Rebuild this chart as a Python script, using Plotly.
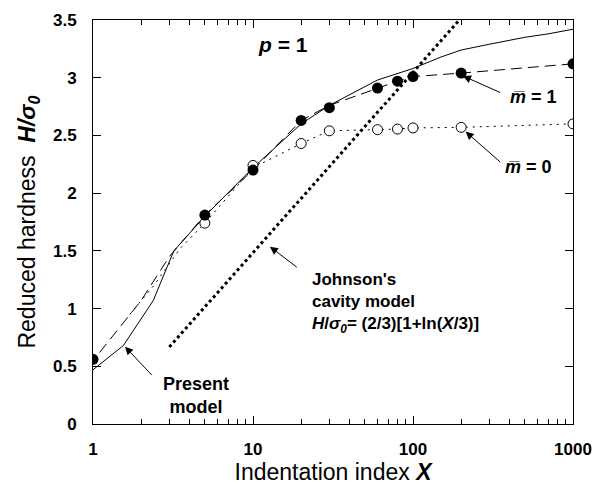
import math
import plotly.graph_objects as go

# ---- data ----
x_m1 = [1, 5, 10, 20, 30, 60, 80, 100, 200, 1000]
y_m1 = [0.56, 1.81, 2.20, 2.63, 2.74, 2.91, 2.97, 3.01, 3.04, 3.12]

x_m1_line = [1.1, 1.5, 2, 3, 5, 10, 20, 30, 60, 80, 100, 200, 1000]
y_m1_line = [0.62, 0.85, 1.07, 1.45, 1.81, 2.20, 2.63, 2.76, 2.91, 2.97, 3.01, 3.04, 3.12]

x_m0 = [5, 10, 20, 30, 60, 80, 100, 200, 1000]
y_m0 = [1.74, 2.24, 2.43, 2.54, 2.55, 2.555, 2.565, 2.57, 2.60]

x_m0_line = [1.7, 2.4, 3.5, 5, 10, 20, 30, 60, 80, 100, 200, 1000]
y_m0_line = [0.95, 1.20, 1.52, 1.74, 2.22, 2.43, 2.54, 2.55, 2.555, 2.565, 2.57, 2.60]

x_present = [1, 1.55, 2.38, 3.2, 5, 10, 20, 30, 60, 100, 150, 200, 300, 500, 700, 1000]
y_present = [0.47, 0.68, 1.07, 1.50, 1.80, 2.22, 2.60, 2.76, 2.98, 3.08, 3.18, 3.24, 3.29, 3.35, 3.38, 3.42]

x_johnson = [3, 195]
y_johnson = [0.667, 3.5]

x_ticks = [1, 10, 100, 1000]
x_ticklabels = ["1", "10", "100", "1000"]
y_ticks = [0, 0.5, 1, 1.5, 2, 2.5, 3, 3.5]
y_ticklabels = ["0", "0.5", "1", "1.5", "2", "2.5", "3", "3.5"]

FONT = "Liberation Sans, Arial, sans-serif"

fig = go.Figure()

fig.add_trace(go.Scatter(x=x_present, y=y_present, mode="lines",
                         line=dict(color="black", width=1), hoverinfo="skip"))
fig.add_trace(go.Scatter(x=x_m1_line, y=y_m1_line, mode="lines",
                         line=dict(color="black", width=1, dash="11px,6px"), hoverinfo="skip"))
fig.add_trace(go.Scatter(x=x_m0_line, y=y_m0_line, mode="lines",
                         line=dict(color="black", width=1, dash="2px,5px"), hoverinfo="skip"))
fig.add_trace(go.Scatter(x=x_johnson, y=y_johnson, mode="lines",
                         line=dict(color="black", width=3, dash="3px,3px"), hoverinfo="skip"))
fig.add_trace(go.Scatter(x=x_m0, y=y_m0, mode="markers",
                         marker=dict(symbol="circle", size=10, color="white",
                                     line=dict(color="black", width=1))))
fig.add_trace(go.Scatter(x=x_m1, y=y_m1, mode="markers",
                         marker=dict(symbol="circle", size=11, color="black",
                                     line=dict(color="black", width=0))))

L = math.log10

def arrow(xt, yt, xh, yh):
    fig.add_annotation(x=L(xh), y=yh, ax=L(xt), ay=yt, xref="x", yref="y",
                       axref="x", ayref="y", text="", showarrow=True,
                       arrowhead=2, arrowsize=1.6, arrowwidth=1, arrowcolor="black")

arrow(10**2.554, 2.866, 10**2.3125, 3.015)
arrow(10**2.554, 2.259, 10**2.329, 2.533)
arrow(10**1.283, 1.349, 10**1.106, 1.536)
arrow(10**0.377, 0.41, 10**0.2, 0.67)

def label(x, y, text, size=18, xanchor="center", align="center"):
    fig.add_annotation(x=L(x), y=y, xref="x", yref="y", text=text, showarrow=False,
                       font=dict(family=FONT, size=size, color="black"),
                       xanchor=xanchor, yanchor="middle", align=align)

label(10**1.1875, 3.284, "<b><i>p</i> = 1</b>", size=21)
label(10**2.75, 2.836, "<b><i>m\u0305</i> = 1</b>", size=18)
label(10**2.719, 2.23, "<b><i>m\u0305</i> = 0</b>", size=18)
label(10**1.355, 1.05,
      "<b>Johnson's<br>cavity model<br><i>H</i>/<i>σ<sub>0</sub></i>= (2/3)[1+ln(<i>X</i>/3)]</b>",
      size=17, xanchor="left", align="left")
label(10**0.644, 0.243, "<b>Present<br>model</b>", size=18)

axis_common = dict(showline=True, linecolor="black", linewidth=1, mirror="ticks",
                   ticks="inside", tickcolor="black", showgrid=False, zeroline=False,
                   tickfont=dict(family=FONT, size=17, color="black"))

fig.update_xaxes(type="log", range=[0, 3], tickvals=x_ticks, ticktext=[f"<b>{t}</b>" for t in x_ticklabels],
                 ticklen=8,
                 minor=dict(ticks="inside", ticklen=5, tickcolor="black", dtick="D1", showgrid=False),
                 title=dict(text="Indentation index <b><i>X</i></b>",
                            font=dict(family=FONT, size=23, color="black"), standoff=4),
                 ticklabelstandoff=10, **axis_common)
fig.update_yaxes(range=[0, 3.5], tickvals=y_ticks, ticktext=[f"<b>{t}</b>" for t in y_ticklabels],
                 ticklen=8,
                 title=dict(text="Reduced hardness  <b><i>H/σ<sub>0</sub></i></b>",
                            font=dict(family=FONT, size=23, color="black"), standoff=10),
                 ticklabelstandoff=12, **axis_common)

fig.update_layout(width=594, height=485, showlegend=False,
                  margin=dict(l=93, r=21, t=20, b=61, autoexpand=False),
                  plot_bgcolor="white", paper_bgcolor="white",
                  font=dict(family=FONT, color="black"))

fig.write_html("out.html", config={"displayModeBar": False},
               post_script="document.body.style.margin='0';")
